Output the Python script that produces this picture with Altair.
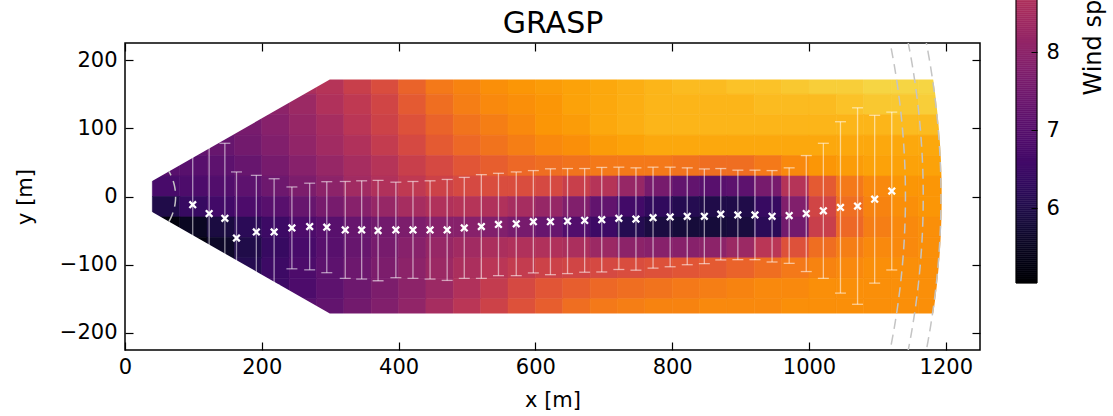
import math
import numpy as np
import pandas as pd
import altair as alt

FONT = "DejaVu Sans"

# ---------------- axes ----------------
XLIM = [0, 1250]
YLIM = [-225, 225]
X_TICKS = [0, 200, 400, 600, 800, 1000, 1200]
Y_TICKS = [-200, -100, 0, 100, 200]
TITLE = "GRASP"

# ---------------- colour bar ----------------
SPEED_DOMAIN = [5.04, 12.8]
CBAR_TICKS = [6, 7, 8]
CBAR_TITLE = "Wind speed [m/s]"

# ---------------- wind-speed field (cell centres, m/s) ----------------
GRID_X = [60, 100, 140, 180, 220, 260, 300, 340, 380, 420, 460, 500, 540, 580, 620,
          660, 700, 740, 780, 820, 860, 900, 940, 980, 1020, 1060, 1100, 1140, 1180]
GRID_Y = [165, 135, 105, 75, 45, 15, -15, -45, -75, -105, -135, -165]

SPEED_Y165 = [8.0, 8.0, 8.0, 8.0, 8.3, 8.6, 8.8, 9.2, 9.6, 10.1, 10.5, 10.7, 10.9, 11.0, 11.1,
              11.2, 11.3, 11.4, 11.5, 11.6, 11.6, 11.7, 11.7, 11.8, 11.9, 11.9, 12.0, 12.0, 12.0]
SPEED_Y135 = [7.8, 7.8, 7.8, 7.8, 8.0, 8.3, 8.7, 9.0, 9.4, 9.9, 10.3, 10.6, 10.8, 10.9, 11.0,
              11.2, 11.3, 11.4, 11.5, 11.5, 11.5, 11.5, 11.6, 11.6, 11.6, 11.7, 11.8, 11.8, 11.9]
SPEED_Y105 = [7.5, 7.5, 7.5, 7.6, 7.9, 8.2, 8.5, 8.9, 9.3, 9.7, 10.1, 10.4, 10.6, 10.8, 11.0,
              11.1, 11.3, 11.4, 11.5, 11.5, 11.5, 11.5, 11.5, 11.5, 11.5, 11.5, 11.5, 11.6, 11.6]
SPEED_Y75 = [7.2, 7.2, 7.3, 7.5, 7.8, 8.1, 8.4, 8.7, 9.1, 9.5, 9.9, 10.2, 10.4, 10.6, 10.8,
             10.9, 11.1, 11.2, 11.3, 11.3, 11.3, 11.3, 11.3, 11.3, 11.3, 11.3, 11.3, 11.3, 11.3]
SPEED_Y45 = [7.0, 7.0, 7.1, 7.3, 7.6, 7.9, 8.2, 8.5, 8.8, 9.2, 9.5, 9.8, 10.0, 10.2, 10.3,
             10.4, 10.5, 10.5, 10.5, 10.4, 10.3, 10.3, 10.5, 10.8, 11.0, 11.1, 11.2, 11.2, 11.2]
SPEED_Y15 = [6.7, 6.8, 6.9, 7.1, 7.4, 7.7, 8.0, 8.4, 8.7, 9.0, 9.3, 9.5, 9.6, 9.6, 9.5,
             9.2, 8.8, 8.2, 7.6, 7.2, 7.0, 7.1, 7.6, 8.8, 9.9, 10.5, 10.8, 11.0, 11.0]
SPEED_YM15 = [6.0, 6.4, 6.6, 6.8, 7.0, 7.3, 7.6, 7.9, 8.2, 8.5, 8.7, 8.8, 8.7, 8.5, 8.2,
              7.8, 7.2, 6.6, 6.3, 6.1, 6.0, 6.0, 6.4, 7.8, 9.4, 10.3, 10.7, 10.9, 11.0]
SPEED_YM45 = [5.2, 5.5, 5.9, 6.2, 6.5, 6.8, 7.0, 7.3, 7.5, 7.7, 7.9, 7.9, 7.8, 7.6, 7.3,
              6.9, 6.5, 6.1, 5.9, 5.8, 5.8, 5.85, 6.2, 7.5, 9.2, 10.2, 10.6, 10.8, 10.9]
SPEED_YM75 = [5.1, 5.2, 5.6, 6.0, 6.4, 6.7, 7.0, 7.3, 7.6, 7.9, 8.2, 8.4, 8.6, 8.7, 8.7,
              8.6, 8.3, 8.0, 7.9, 7.9, 8.0, 8.3, 8.9, 9.7, 10.3, 10.6, 10.8, 10.8, 10.9]
SPEED_YM105 = [5.5, 5.5, 5.5, 6.1, 6.5, 6.8, 7.1, 7.4, 7.7, 8.0, 8.3, 8.6, 8.9, 9.1, 9.3,
               9.4, 9.5, 9.6, 9.7, 9.8, 9.9, 10.1, 10.3, 10.5, 10.7, 10.8, 10.9, 10.9, 10.9]
SPEED_YM135 = [6.5, 6.5, 6.5, 6.5, 6.5, 6.8, 7.1, 7.4, 7.7, 8.0, 8.3, 8.7, 9.1, 9.5, 9.8,
               10.0, 10.2, 10.3, 10.4, 10.5, 10.6, 10.7, 10.8, 10.8, 10.9, 10.9, 10.9, 10.9, 10.9]
SPEED_YM165 = [7.0, 7.0, 7.0, 7.0, 7.0, 7.0, 7.2, 7.5, 7.8, 8.1, 8.5, 8.9, 9.3, 9.7, 10.0,
               10.3, 10.5, 10.6, 10.7, 10.7, 10.8, 10.8, 10.8, 10.9, 10.9, 10.9, 10.9, 10.9, 10.9]
SPEED_ROWS = [SPEED_Y165, SPEED_Y135, SPEED_Y105, SPEED_Y75, SPEED_Y45, SPEED_Y15,
              SPEED_YM15, SPEED_YM45, SPEED_YM75, SPEED_YM105, SPEED_YM135, SPEED_YM165]

# ---------------- scan sector outline (lidar at origin) ----------------
SECTOR_HALF_ANGLE_DEG = 29.8
FIELD_X_MIN = 40
FIELD_Y_MAX = 171.5
FIELD_R_MAX = 1194

# ---------------- dashed range arcs (centred at origin) ----------------
ARC_RADII = [74, 1141, 1167, 1193]

# ---------------- wake-centre estimates with error bars ----------------
MARK_X = [99, 123, 146, 163, 192, 218, 244, 270, 295, 322, 346, 370, 396, 421, 446,
          471, 496, 521, 546, 572, 597, 622, 647, 672, 697, 722, 747, 772, 797, 822,
          847, 871, 896, 921, 946, 971, 996, 1021, 1046, 1071, 1096, 1121]
MARK_Y = [-12, -25, -32, -61, -52, -52, -46, -44, -45, -49, -49, -50, -49, -49, -49,
          -49, -46, -44, -41, -40, -37, -37, -36, -35, -34, -32, -33, -31, -30, -29,
          -29, -26, -27, -27, -29, -28, -25, -21, -16, -14, -4, 8]
MARK_ERR = [110, 110, 110, 97, 83, 78, 60, 63.5, 66.7, 71, 72, 73.5, 70, 71, 72,
            74, 74, 76, 75, 76, 75, 77.6, 77, 76, 76.6, 75, 75, 74, 73, 71,
            69.4, 67, 65.6, 65.6, 67, 70, 85, 99, 125.6, 144, 123, 115.7]

for row in SPEED_ROWS:
    assert len(row) == len(GRID_X)

# ---------------- layout (pixels) ----------------
PLOT_W, PLOT_H = 855, 307
PAD = {"left": 125, "top": 43, "right": 133, "bottom": 66}
CBAR_X = [891, 912]          # colour-bar left/right edge, relative to plot origin
CBAR_Y = [240, -365]         # colour-bar bottom/top (top lies above the page)

# ---------------- build tables ----------------
dx = GRID_X[1] - GRID_X[0]
dy = GRID_Y[0] - GRID_Y[1]
cells = pd.DataFrame([
    {"x0": gx - dx / 2, "x1": gx + dx / 2, "y0": gy - dy / 2, "y1": gy + dy / 2, "speed": v}
    for gy, row in zip(GRID_Y, SPEED_ROWS) for gx, v in zip(GRID_X, row)
])

tan_a = math.tan(math.radians(SECTOR_HALF_ANGLE_DEG))
x_corner = FIELD_Y_MAX / tan_a
cell_top = max(GRID_Y) + dy / 2 + 6
cell_right = max(GRID_X) + dx / 2 + 6
x_start = FIELD_X_MIN - 6

top_mask = pd.DataFrame({"x": [x_start, x_corner, cell_right],
                         "y": [x_start * tan_a, FIELD_Y_MAX, FIELD_Y_MAX],
                         "y2": [cell_top] * 3})
bottom_mask = pd.DataFrame({"x": [x_start, x_corner, cell_right],
                            "y": [-x_start * tan_a, -FIELD_Y_MAX, -FIELD_Y_MAX],
                            "y2": [-cell_top] * 3})
yy = np.linspace(-cell_top, cell_top, 121)
right_mask = pd.DataFrame({"y": yy, "x": np.sqrt(FIELD_R_MAX ** 2 - yy ** 2), "x2": cell_right})

th = np.radians(np.linspace(-SECTOR_HALF_ANGLE_DEG, SECTOR_HALF_ANGLE_DEG, 361))
arcs = pd.DataFrame([{"x": r * math.cos(t), "y": r * math.sin(t), "r": r, "i": k}
                     for r in ARC_RADII for k, t in enumerate(th)])

marks = pd.DataFrame({"x": MARK_X, "y": MARK_Y, "err": MARK_ERR})
marks["lo"] = marks["y"] - marks["err"]
marks["hi"] = marks["y"] + marks["err"]

steps = np.linspace(SPEED_DOMAIN[0], SPEED_DOMAIN[1], 301)
cbar = pd.DataFrame({"v0": steps[:-1], "v1": steps[1:], "c": (steps[:-1] + steps[1:]) / 2,
                     "a": 0.0, "b": 1.0})
cbar_frame = pd.DataFrame({"v0": [SPEED_DOMAIN[0]], "v1": [SPEED_DOMAIN[1]], "a": [0.0], "b": [1.0]})

# ---------------- scales & axes ----------------
xs = alt.Scale(domain=XLIM, nice=False, zero=False)
ys = alt.Scale(domain=YLIM, nice=False, zero=False)
cscale = alt.Scale(scheme="inferno", domain=SPEED_DOMAIN)
cb_x = alt.Scale(domain=[0, 1], range=CBAR_X, nice=False, zero=False)
cb_y = alt.Scale(domain=SPEED_DOMAIN, range=CBAR_Y, nice=False, zero=False)

axis_common = dict(grid=False, domain=False, tickColor="black", tickWidth=1.2, tickSize=8,
                   offset=-8, zindex=1, labelFont=FONT, labelFontSize=21, labelColor="black",
                   titleFont=FONT, titleFontSize=21, titleColor="black",
                   titleFontWeight="normal", labelFlush=False, labelOverlap=False, format="d")

x_bottom = alt.Axis(orient="bottom", values=X_TICKS, labelPadding=6, title="x [m]",
                    titlePadding=12, **axis_common)
y_left = alt.Axis(orient="left", values=Y_TICKS, labelPadding=8, title="y [m]",
                  titlePadding=24, **axis_common)
x_top = alt.Axis(orient="top", values=X_TICKS, labels=False, title=TITLE,
                 **{**axis_common, "titleFontSize": 30, "titlePadding": 4})
y_right = alt.Axis(orient="right", values=Y_TICKS, labels=False, title=None, **axis_common)

cbar_axis = alt.Axis(orient="right", values=CBAR_TICKS, offset=CBAR_X[1] - PLOT_W - 6,
                     tickSize=6, tickColor="black", tickWidth=1, domain=False, grid=False,
                     labelFont=FONT, labelFontSize=21, labelColor="black", labelPadding=9,
                     labelOverlap=False, labelFlush=False, format="d",
                     title=CBAR_TITLE, titleFont=FONT, titleFontSize=24, titleColor="black",
                     titleFontWeight="normal", titleAngle=270, titleAlign="left",
                     titleBaseline="middle", titleX=62, titleY=52, zindex=1)

# ---------------- layers ----------------
field = alt.Chart(cells).mark_rect(strokeWidth=0.6).encode(
    x=alt.X("x0:Q", scale=xs, axis=None), x2="x1:Q",
    y=alt.Y("y0:Q", scale=ys, axis=None), y2="y1:Q",
    fill=alt.Fill("speed:Q", scale=cscale, legend=None),
    stroke=alt.Stroke("speed:Q", scale=cscale, legend=None),
)

top_m = alt.Chart(top_mask).mark_area(color="white", opacity=1).encode(
    x=alt.X("x:Q", scale=xs, axis=None), y=alt.Y("y:Q", scale=ys, axis=None), y2="y2:Q")
bot_m = alt.Chart(bottom_mask).mark_area(color="white", opacity=1).encode(
    x=alt.X("x:Q", scale=xs, axis=None), y=alt.Y("y:Q", scale=ys, axis=None), y2="y2:Q")
right_m = alt.Chart(right_mask).mark_area(color="white", opacity=1, orient="horizontal").encode(
    y=alt.Y("y:Q", scale=ys, axis=None), x=alt.X("x:Q", scale=xs, axis=None), x2="x2:Q")

arc_layer = alt.Chart(arcs).mark_line(color="#c4c4c4", strokeWidth=1.5, strokeDash=[10, 6],
                                      clip=True).encode(
    x=alt.X("x:Q", scale=xs, axis=None), y=alt.Y("y:Q", scale=ys, axis=None),
    detail="r:N", order="i:Q")

rules = alt.Chart(marks).mark_rule(color="white", opacity=0.55, strokeWidth=1.3).encode(
    x=alt.X("x:Q", scale=xs, axis=x_top), y=alt.Y("lo:Q", scale=ys, axis=y_right), y2="hi:Q")

caps = alt.Chart(marks).transform_fold(["lo", "hi"], as_=["end", "yv"]).mark_tick(
    orient="horizontal", size=11, thickness=1.3, color="white", opacity=0.55).encode(
    x=alt.X("x:Q", scale=xs, axis=None), y=alt.Y("yv:Q", scale=ys, axis=None))

points = alt.Chart(marks).mark_point(shape="M-1,-1L1,1M-1,1L1,-1", filled=False, size=44,
                                     strokeWidth=2.3, color="white", opacity=1).encode(
    x=alt.X("x:Q", scale=xs, axis=x_bottom), y=alt.Y("y:Q", scale=ys, axis=y_left))

cbar_layer = alt.Chart(cbar).mark_rect(strokeWidth=0.5).encode(
    x=alt.X("a:Q", scale=cb_x, axis=None), x2="b:Q",
    y=alt.Y("v0:Q", scale=cb_y, axis=cbar_axis), y2="v1:Q",
    fill=alt.Fill("c:Q", scale=cscale, legend=None),
    stroke=alt.Stroke("c:Q", scale=cscale, legend=None),
)
cbar_box = alt.Chart(cbar_frame).mark_rect(filled=False, stroke="black", strokeWidth=1).encode(
    x=alt.X("a:Q", scale=cb_x, axis=None), x2="b:Q",
    y=alt.Y("v0:Q", scale=cb_y, axis=None), y2="v1:Q")

chart = alt.layer(field, top_m, bot_m, right_m, arc_layer, rules, caps, points,
                  cbar_layer, cbar_box).resolve_scale(
    x="independent", y="independent"
).resolve_axis(
    x="independent", y="independent"
).properties(
    width=PLOT_W, height=PLOT_H,
    autosize=alt.AutoSizeParams(type="none"),
    padding=PAD,
).configure_view(stroke="black", strokeWidth=1.5)

chart.save("out.html", embed_options={"renderer": "svg", "actions": False})
